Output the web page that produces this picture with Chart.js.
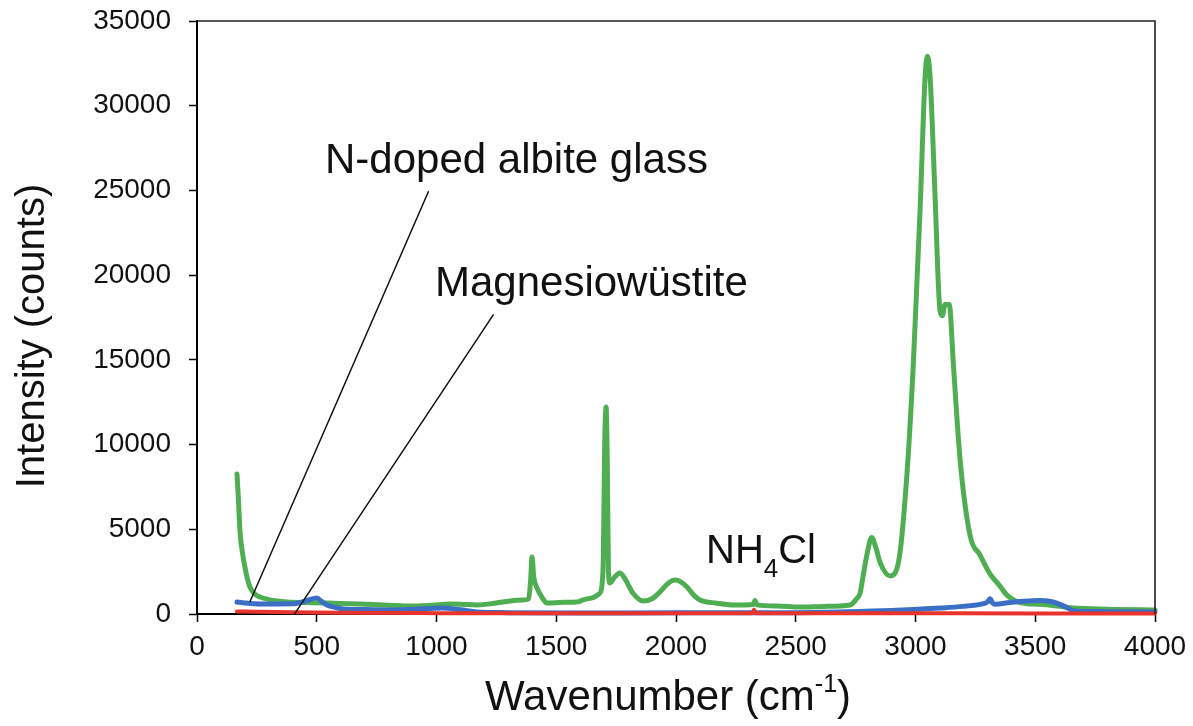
<!DOCTYPE html>
<html>
<head>
<meta charset="utf-8">
<script src="https://cdn.jsdelivr.net/npm/chart.js@4.4.1/dist/chart.umd.min.js"></script>
<style>
    html, body { margin: 0; padding: 0; background: #fff; }
    #box { width: 1193px; height: 726px; position: relative; }
</style>
</head>
<body>
<div id="box"><canvas id="grafico"></canvas></div>
<script>
// NH4Cl (verde)
const nh4clX = [167, 172, 180, 190, 200, 210, 221, 240, 263, 300, 376, 450, 543, 600, 680, 800, 890, 980, 1056, 1100,
    1169, 1250, 1307, 1360, 1385, 1393, 1399, 1406, 1420, 1440, 1461, 1530, 1587, 1612, 1650, 1680, 1695, 1703, 1708, 1713,
    1718, 1724, 1745, 1766, 1790, 1820, 1862, 1900, 1933, 1970, 1996, 2020, 2046, 2075, 2100, 2170, 2238, 2322, 2330, 2338,
    2420, 2518, 2620, 2727, 2754, 2768, 2782, 2797, 2817, 2835, 2852, 2894, 2929, 2963, 2991, 3019, 3040, 3050, 3061, 3081,
    3102, 3112, 3123, 3141, 3158, 3186, 3228, 3269, 3311, 3350, 3381, 3436, 3520, 3600, 3659, 3800, 4000];
const nh4clY = [8260, 7000, 4780, 3600, 2770, 2100, 1590, 1200, 1000, 850, 710, 680, 650, 620, 590, 520, 470, 520, 590, 580,
    530, 650, 770, 820, 900, 2000, 3370, 2200, 1530, 1000, 650, 690, 710, 830, 950, 1200, 2500, 10500, 12220, 9000,
    2500, 1830, 2200, 2420, 2000, 1240, 770, 900, 1300, 1850, 2000, 1900, 1590, 1100, 830, 640, 530, 560, 800, 540,
    470, 410, 450, 530, 900, 1200, 2300, 3500, 4510, 3900, 3050, 2250, 3050, 8000, 14770, 23790, 31680, 32920, 31680, 24920,
    17930, 17600, 18270, 18270, 14770, 9130, 4620, 3490, 2370, 1700, 1130, 680, 570, 450, 350, 280, 240];

// N-doped albite glass (azul)
const vidroX = [167, 200, 263, 400, 460, 501, 520, 543, 580, 610, 700, 818, 900, 1027, 1100, 1169, 1300, 1587, 2000, 2500,
    2685, 2900, 3102, 3200, 3269, 3300, 3311, 3322, 3332, 3394, 3450, 3520, 3570, 3603, 3640, 3659, 3800, 4000];
const vidroY = [710, 650, 590, 600, 800, 940, 750, 530, 380, 300, 260, 240, 280, 350, 250, 120, 80, 60, 70, 80,
    120, 200, 350, 450, 570, 700, 900, 650, 570, 680, 750, 790, 720, 570, 330, 180, 140, 120];

// Magnesiowüstite (vermelho)
const mwX = [167, 250, 400, 600, 1000, 1500, 2000, 2318, 2326, 2334, 3000, 3500, 4000];
const mwY = [150, 130, 100, 70, 50, 40, 40, 40, 250, 40, 40, 35, 30];

// linhas de chamada (wavenumber, counts)
const setaVidro = [{ x: 966, y: 24925 }, { x: 221, y: 725 }];
const setaMw = [{ x: 1237, y: 17650 }, { x: 409, y: 40 }];

const ticksY = [0, 5000, 10000, 15000, 20000, 25000, 30000, 35000];
const ticksX = [0, 500, 1000, 1500, 2000, 2500, 3000, 3500, 4000];

const FONTE = '"Liberation Sans", Arial, Helvetica, sans-serif';

function pontos(xs, ys) {
    return xs.map((x, i) => ({ x: x, y: ys[i] }));
}

// Textos e moldura desenhados por cima do gráfico
const textosPlugin = {
    id: 'textos',
    afterDraw(chart) {
        const ctx = chart.ctx;
        const a = chart.chartArea;
        ctx.save();

        // moldura superior e direita
        ctx.strokeStyle = '#222';
        ctx.lineWidth = 1.6;
        ctx.beginPath();
        ctx.moveTo(a.left, a.top);
        ctx.lineTo(a.right, a.top);
        ctx.lineTo(a.right, a.bottom);
        ctx.stroke();

        ctx.fillStyle = '#111';
        ctx.textBaseline = 'alphabetic';
        ctx.textAlign = 'left';

        // rótulos das curvas
        ctx.font = '42px ' + FONTE;
        ctx.fillText('N-doped albite glass', 325, 173);
        ctx.fillText('Magnesiowüstite', 435, 296);

        // NH4Cl com subscrito
        ctx.font = '40px ' + FONTE;
        let x = 706;
        ctx.fillText('NH', x, 563);
        x += ctx.measureText('NH').width;
        ctx.font = '26px ' + FONTE;
        ctx.fillText('4', x, 577);
        x += ctx.measureText('4').width;
        ctx.font = '40px ' + FONTE;
        ctx.fillText('Cl', x, 563);

        // título do eixo x com sobrescrito
        const p1 = 'Wavenumber (cm', sup = '-1', p2 = ')';
        ctx.font = '25px ' + FONTE;
        const wSup = ctx.measureText(sup).width;
        ctx.font = '42px ' + FONTE;
        const total = ctx.measureText(p1).width + wSup + ctx.measureText(p2).width;
        x = 668 - total / 2;
        ctx.fillText(p1, x, 710);
        x += ctx.measureText(p1).width;
        ctx.font = '25px ' + FONTE;
        ctx.fillText(sup, x, 692);
        x += wSup;
        ctx.font = '42px ' + FONTE;
        ctx.fillText(p2, x, 710);

        // título do eixo y
        ctx.font = '40px ' + FONTE;
        ctx.translate(44, 336);
        ctx.rotate(-Math.PI / 2);
        ctx.textAlign = 'center';
        ctx.fillText('Intensity (counts)', 0, 0);

        ctx.restore();
    }
};

const ctx = document.getElementById('grafico');

new Chart(ctx, {
    type: 'line',
    data: {
        datasets: [
            {
                label: 'Magnesiowüstite',
                data: pontos(mwX, mwY),
                borderColor: '#e8342c',
                borderWidth: 4,
                order: 0
            },
            {
                label: 'N-doped albite glass',
                data: pontos(vidroX, vidroY),
                borderColor: '#3b6fc6',
                borderWidth: 5,
                order: 1
            },
            {
                label: 'NH4Cl',
                data: pontos(nh4clX, nh4clY),
                borderColor: '#4fae52',
                borderWidth: 5,
                order: 2
            },
            {
                label: 'seta1',
                data: setaVidro,
                borderColor: '#111',
                borderWidth: 1.5,
                order: -1
            },
            {
                label: 'seta2',
                data: setaMw,
                borderColor: '#111',
                borderWidth: 1.5,
                order: -1
            }
        ]
    },
    options: {
        responsive: true,
        maintainAspectRatio: false,
        animation: false,
        layout: {
            padding: { top: 21, right: 38, left: 0, bottom: 0 }
        },
        elements: {
            point: { radius: 0 },
            line: { cubicInterpolationMode: 'monotone', fill: false, borderJoinStyle: 'round', borderCapStyle: 'round' }
        },
        datasets: {
            line: { clip: false }
        },
        plugins: {
            legend: { display: false },
            tooltip: { enabled: false }
        },
        scales: {
            x: {
                type: 'linear',
                min: 0,
                max: 4000,
                afterFit(scale) {
                    scale.height = 112;
                    scale.paddingLeft = 0;
                    scale.paddingRight = 0;
                },
                afterBuildTicks(scale) { scale.ticks = ticksX.map(v => ({ value: v })); },
                border: { display: true, color: '#000', width: 2 },
                grid: { drawOnChartArea: false, tickLength: 8, tickColor: '#000', tickWidth: 1.5 },
                ticks: {
                    font: { family: FONTE, size: 28 },
                    color: '#111',
                    padding: 8,
                    maxRotation: 0,
                    callback: v => String(v)
                }
            },
            y: {
                type: 'linear',
                min: 0,
                max: 35000,
                afterFit(scale) {
                    scale.width = 197;
                    scale.paddingTop = 0;
                    scale.paddingBottom = 0;
                },
                afterBuildTicks(scale) { scale.ticks = ticksY.map(v => ({ value: v })); },
                border: { display: true, color: '#000', width: 2 },
                grid: { drawOnChartArea: false, tickLength: 8, tickColor: '#000', tickWidth: 1.5 },
                ticks: {
                    font: { family: FONTE, size: 28 },
                    color: '#111',
                    padding: 18,
                    callback: v => String(v)
                }
            }
        }
    },
    plugins: [textosPlugin]
});
</script>
</body>
</html>
